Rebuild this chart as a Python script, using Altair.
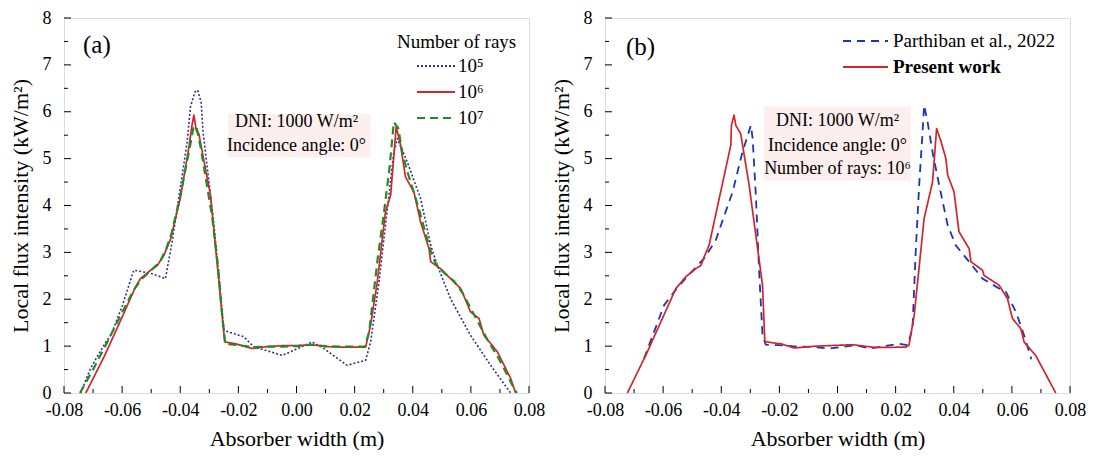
import altair as alt
import pandas as pd

FONT = "Liberation Serif"
W, H = 465, 375

# ---------------- Panel (a): number of rays ----------------
a_series = ["10\u2075", "10\u2076", "10\u2077"]

a_x_1e5 = [-0.0743, -0.0709, -0.0660, -0.0637, -0.0600, -0.0560, -0.0500, -0.0451, -0.0428,
           -0.0376, -0.0365, -0.0350, -0.0340, -0.0328, -0.0322, -0.0284, -0.0250, -0.0248,
           -0.0181, -0.0147, -0.0100, -0.0049, 0.0054, 0.0094, 0.0174, 0.0238, 0.0255, 0.0284,
           0.0289, 0.0318, 0.0335, 0.0347, 0.0381, 0.0427, 0.0462, 0.0484, 0.0530, 0.0599,
           0.0668, 0.0737]
a_y_1e5 = [0.00, 0.52, 1.05, 1.25, 1.85, 2.62, 2.55, 2.44, 3.22,
           5.36, 6.10, 6.42, 6.46, 6.20, 5.60, 3.58, 1.37, 1.33,
           1.20, 0.98, 0.90, 0.80, 1.09, 0.95, 0.59, 0.70, 1.09, 2.37,
           2.65, 4.22, 5.14, 5.43, 4.93, 4.15, 3.15, 2.73, 2.01, 1.23,
           0.59, 0.00]

a_x_1e6 = [-0.0725, -0.0660, -0.0600, -0.0555, -0.0537, -0.0502, -0.0479, -0.0456, -0.0433,
           -0.0400, -0.0370, -0.0360, -0.0353, -0.0345, -0.0336, -0.0296, -0.0247, -0.0210,
           -0.0153, -0.0100, -0.0050, 0.0000, 0.0054, 0.0100, 0.0150, 0.0200, 0.0238, 0.0255,
           0.0278, 0.0306, 0.0324, 0.0343, 0.0358, 0.0375, 0.0404, 0.0427, 0.0456, 0.0462,
           0.0496, 0.0530, 0.0565, 0.0599, 0.0628, 0.0645, 0.0691, 0.0737, 0.0754]
a_y_1e6 = [0.00, 0.80, 1.62, 2.25, 2.44, 2.62, 2.72, 2.94, 3.29,
           4.15, 5.25, 5.70, 5.93, 5.60, 5.53, 4.22, 1.09, 1.05,
           0.95, 0.99, 1.01, 1.01, 1.03, 0.99, 0.98, 0.98, 0.98, 1.45,
           2.37, 3.86, 4.22, 5.68, 5.29, 4.61, 4.29, 3.65, 3.08, 2.80,
           2.65, 2.44, 2.23, 1.73, 1.59, 1.23, 0.88, 0.31, 0.00]

a_x_1e7 = [-0.0745, -0.0700, -0.0650, -0.0600, -0.0560, -0.0530, -0.0500, -0.0470, -0.0450,
           -0.0430, -0.0400, -0.0370, -0.0355, -0.0345, -0.0330, -0.0310, -0.0290, -0.0270,
           -0.0255, -0.0245, -0.0200, -0.0150, -0.0100, -0.0050, 0.0000, 0.0050, 0.0100,
           0.0150, 0.0200, 0.0235, 0.0250, 0.0265, 0.0280, 0.0300, 0.0320, 0.0335, 0.0350,
           0.0365, 0.0380, 0.0400, 0.0420, 0.0440, 0.0460, 0.0480, 0.0510, 0.0540, 0.0570,
           0.0600, 0.0630, 0.0660, 0.0690, 0.0720, 0.0740, 0.0758]
a_y_1e7 = [0.00, 0.50, 1.10, 1.72, 2.20, 2.45, 2.62, 2.80, 3.05,
           3.40, 4.20, 5.15, 5.65, 5.70, 5.25, 4.50, 3.75, 2.70,
           1.60, 1.05, 1.02, 0.98, 0.99, 0.99, 1.00, 1.03, 1.00,
           0.99, 0.99, 0.99, 1.30, 2.10, 2.90, 3.80, 4.80, 5.78, 5.65,
           5.10, 4.75, 4.35, 3.95, 3.50, 3.05, 2.75, 2.55, 2.40, 2.15,
           1.80, 1.45, 1.10, 0.80, 0.45, 0.20, 0.00]

# ---------------- Panel (b): validation ----------------
b_series = ["Parthiban et al., 2022", "Present work"]

b_x_ref = [-0.0666, -0.0597, -0.0562, -0.0522, -0.0459, -0.0419, -0.0361, -0.0327, -0.0298,
           -0.0292, -0.0281, -0.0270, -0.0258, -0.0247, -0.0200, -0.0155, -0.0080, -0.0029,
           0.0063, 0.0109, 0.0160, 0.0212, 0.0241, 0.0258, 0.0269, 0.0281, 0.0292, 0.0298,
           0.0310, 0.0327, 0.0350, 0.0379, 0.0407, 0.0453, 0.0499, 0.0556, 0.0579, 0.0614,
           0.0642, 0.0667]
b_y_ref = [0.73, 1.87, 2.16, 2.45, 2.87, 3.26, 4.29, 5.14, 5.71,
           5.43, 4.22, 2.65, 1.23, 1.03, 1.02, 1.00, 0.98, 0.95,
           1.02, 0.95, 1.00, 1.05, 1.02, 1.37, 3.00, 4.43, 5.50, 6.14,
           5.78, 5.14, 4.43, 3.58, 3.15, 2.80, 2.44, 2.23, 2.16, 1.73,
           1.23, 0.72]

b_x_present = [-0.0723, -0.0660, -0.0556, -0.0522, -0.0488, -0.0470, -0.0459, -0.0442, -0.0367,
               -0.0365, -0.0356, -0.0350, -0.0333, -0.0304, -0.0258, -0.0250, -0.0212, -0.0195,
               -0.0149, -0.0075, 0.0052, 0.0132, 0.0235, 0.0246, 0.0264, 0.0298, 0.0327, 0.0341,
               0.0355, 0.0373, 0.0379, 0.0401, 0.0418, 0.0453, 0.0459, 0.0499, 0.0504, 0.0556,
               0.0585, 0.0602, 0.0631, 0.0642, 0.0682, 0.0751]
b_y_present = [0.00, 0.80, 2.23, 2.48, 2.65, 2.72, 2.90, 3.15, 5.29,
               5.71, 5.93, 5.71, 5.53, 4.43, 2.30, 1.10, 1.06, 1.05,
               0.96, 1.00, 1.03, 0.97, 0.98, 1.02, 1.66, 3.72, 4.50, 5.64,
               5.39, 5.00, 4.65, 4.29, 3.44, 3.08, 2.80, 2.62, 2.51, 2.30,
               2.01, 1.59, 1.37, 1.09, 0.80, 0.00]

# annotation texts
note_a = ["DNI: 1000 W/m\u00b2", "Incidence angle: 0\u00b0"]
note_b = ["DNI: 1000 W/m\u00b2", "Incidence angle: 0\u00b0", "Number of rays: 10\u2076"]

# axis tick values
x_major = [-0.08, -0.06, -0.04, -0.02, 0.0, 0.02, 0.04, 0.06, 0.08]
x_minor = [-0.07, -0.05, -0.03, -0.01, 0.01, 0.03, 0.05, 0.07]
y_major = [0, 1, 2, 3, 4, 5, 6, 7, 8]
y_minor = [0.5, 1.5, 2.5, 3.5, 4.5, 5.5, 6.5, 7.5]


def make_df(xs_list, ys_list, names):
    rows = []
    for xs, ys, n in zip(xs_list, ys_list, names):
        for i, (x, y) in enumerate(zip(xs, ys)):
            rows.append({"x": x, "v": y, "series": n, "i": i})
    return pd.DataFrame(rows)


xscale = alt.Scale(domain=[-0.08, 0.08], nice=False, zero=False)
yscale = alt.Scale(domain=[0, 8], nice=False, zero=False)

main_x_axis = alt.Axis(
    values=x_major, ticks=False, domain=False, grid=False, labelFlush=False,
    labelExpr="(datum.value < -0.0001 ? '-' : '') + format(abs(datum.value), '.2f')",
    labelFont=FONT, labelFontSize=18, labelColor="black", labelPadding=8,
    title="Absorber width (m)", titleFont=FONT, titleFontSize=22,
    titleFontWeight="normal", titleColor="black", titlePadding=9)
main_y_axis = alt.Axis(
    values=y_major, ticks=False, domain=False, grid=False, format="d",
    labelFont=FONT, labelFontSize=18, labelColor="black", labelPadding=13,
    title="Local flux intensity (kW/m\u00b2)", titleFont=FONT, titleFontSize=22,
    titleFontWeight="normal", titleColor="black", titlePadding=10)


def X(field):
    return alt.X(field, scale=xscale, axis=main_x_axis)


def Y(field):
    return alt.Y(field, scale=yscale, axis=main_y_axis)


def tick_layers():
    layers = []
    for vals, ln in ((x_major, 7), (x_minor, 4)):
        layers.append(alt.Chart(pd.DataFrame({"x": vals})).mark_rule(color="black", strokeWidth=1).encode(
            x=X("x:Q"), y=alt.value(H), y2=alt.value(H - ln)))
    for vals, ln in ((y_major, 7), (y_minor, 4)):
        layers.append(alt.Chart(pd.DataFrame({"v": vals})).mark_rule(color="black", strokeWidth=1).encode(
            y=Y("v:Q"), x=alt.value(0), x2=alt.value(ln)))
    return layers


def panel(df, series, colors, dashes, widths, legend, tag, tag_xy, notes, note_ys, box, extra=None):
    box_df = pd.DataFrame([{"x0": box[0], "x1": box[1], "y0": box[2], "y1": box[3]}])
    rect = alt.Chart(box_df).mark_rect(color="#fcefee").encode(
        x=X("x0:Q"), x2="x1:Q", y=Y("y0:Q"), y2="y1:Q")
    line_layers = []
    for s, w in zip(series, widths):
        line_layers.append(
            alt.Chart(df).transform_filter(alt.datum.series == s).mark_line(
                strokeWidth=w, strokeJoin="round").encode(
                x=X("x:Q"), y=Y("v:Q"),
                color=alt.Color("series:N", scale=alt.Scale(domain=series, range=colors), legend=legend),
                strokeDash=alt.StrokeDash("series:N", scale=alt.Scale(domain=series, range=dashes),
                                          legend=legend),
                order="i:Q"))
    notes_df = pd.DataFrame({"t": notes, "x": [0.0] * len(notes), "v": note_ys})
    note_txt = alt.Chart(notes_df).mark_text(font=FONT, fontSize=18, color="black",
                                               align="center", baseline="middle").encode(
        x=X("x:Q"), y=Y("v:Q"), text="t:N")
    tag_txt = alt.Chart(pd.DataFrame({"t": [tag]})).mark_text(
        font=FONT, fontSize=25, color="black", align="left", baseline="middle").encode(
        x=alt.value(tag_xy[0]), y=alt.value(tag_xy[1]), text="t:N")
    layers = [rect] + tick_layers() + line_layers + [note_txt, tag_txt]
    if extra is not None:
        layers.append(extra)
    return alt.layer(*layers).properties(width=W, height=H)


df_a = make_df([a_x_1e5, a_x_1e6, a_x_1e7], [a_y_1e5, a_y_1e6, a_y_1e7], a_series)
df_b = make_df([b_x_ref, b_x_present], [b_y_ref, b_y_present], b_series)

legend_a = alt.Legend(title=None, orient="none", legendX=352, legendY=35, padding=0,
                      labelFont=FONT, labelFontSize=19, labelColor="black", labelOffset=2,
                      symbolType="stroke", symbolSize=1444, symbolStrokeWidth=1.8,
                      clipHeight=26, rowPadding=0)
legend_b = alt.Legend(title=None, orient="none", legendX=237, legendY=10, padding=0,
                      labelFont=FONT, labelFontSize=19, labelColor="black", labelOffset=4,
                      labelLimit=300,
                      labelFontWeight=alt.ExprRef(expr="datum.label == 'Present work' ? 'bold' : 'normal'"),
                      symbolType="stroke", symbolSize=2025, symbolStrokeWidth=1.8,
                      clipHeight=26, rowPadding=0)

legend_title_a = alt.Chart(pd.DataFrame({"t": ["Number of rays"]})).mark_text(
    font=FONT, fontSize=19, color="black", align="left", baseline="middle").encode(
    x=alt.value(333), y=alt.value(24), text="t:N")

chart_a = panel(df_a, a_series, ["#2e3192", "#d0262b", "#228b22"], [[2, 2], [1, 0], [8, 5]],
                [1.6, 1.7, 2.2], legend_a, "(a)", (19, 27), note_a, [5.78, 5.26],
                (-0.0235, 0.0255, 5.03, 5.95), extra=legend_title_a)
chart_b = panel(df_b, b_series, ["#1f33b5", "#d0262b"], [[8, 6], [1, 0]],
                [1.8, 1.7], legend_b, "(b)", (21, 29), note_b, [5.81, 5.28, 4.78],
                (-0.0253, 0.0252, 4.53, 6.11))

chart = alt.hconcat(chart_a, chart_b, spacing=3).resolve_scale(
    color="independent", strokeDash="independent").properties(padding=0).configure_view(
    stroke="black", strokeWidth=1.2).configure_axis(
    labelFont=FONT, titleFont=FONT).configure_legend(labelFont=FONT).configure(background="white")

chart.save("out.html", embed_options={"renderer": "svg", "actions": False})
